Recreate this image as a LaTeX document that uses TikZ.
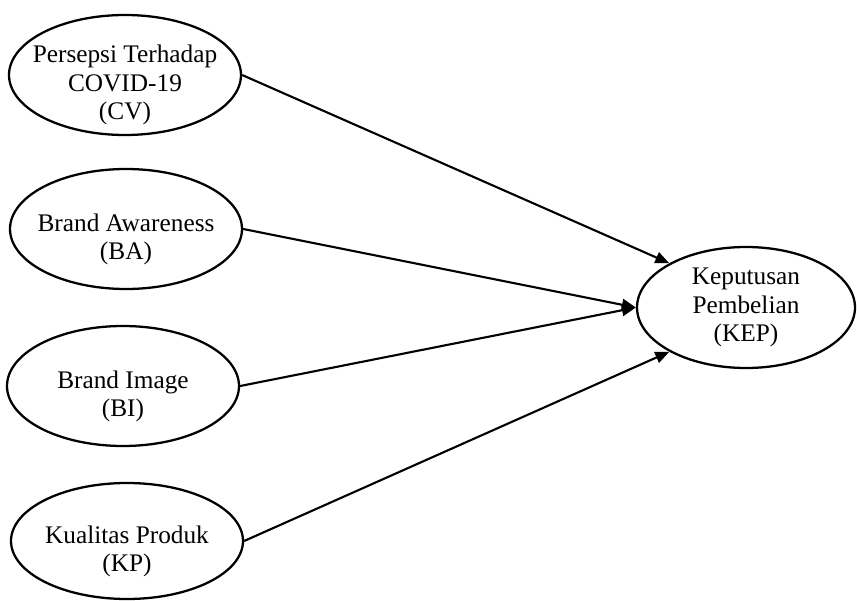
\documentclass[tikz,border=0pt]{standalone}
\usepackage{fontspec}
\setmainfont{Liberation Serif}
\usepackage{tikz}
\usetikzlibrary{arrows.meta,positioning,shapes.geometric}
\tikzset{
  latent/.style={ellipse,draw=black,line width=1.3pt,inner sep=0pt,
    minimum width=4.64cm,minimum height=2.40cm},
  arr/.style={-{Triangle[length=2.8mm,width=2.3mm]},line width=1.2pt,draw=black}
}

\begin{document}
\begin{tikzpicture}[
  lbl/.style={
    font=\fontsize{14.4}{16}\selectfont,
    align=center,
    inner sep=0pt
  },
  lbldown/.style={
    lbl,
    yshift=-0.2cm
  }
]
\useasboundingbox (0,0) rectangle (17.14,12);

% exogenous constructs
\node[latent] (cv) at (2.50,10.50) {};
\node[latent] (ba) at (2.52,7.42) {};
\node[latent] (bi) at (2.46,4.28) {};
\node[latent,minimum height=2.32cm] (kp) at (2.54,1.18) {};

\node[lbldown] (cvtext) at (cv) {Persepsi Terhadap\\COVID-19\\(CV)};
\node[lbldown] (batext) at (ba) {Brand Awareness\\(BA)};
\node[lbldown] (bitext) at (bi) {Brand Image\\(BI)};
\node[lbldown] (kptext) at (kp) {Kualitas Produk\\(KP)};

% endogenous construct
\node[latent,minimum width=4.36cm,minimum height=2.42cm] (kep) at (14.92,5.85) {};
\node[lbl] (keptext) at (kep) {Keputusan\\Pembelian\\(KEP)};

% paths
\draw[arr] (cv.east) -- (kep.150);
\draw[arr] (ba.east) -- (kep.west);
\draw[arr] (bi.east) -- (kep.west);
\draw[arr] (kp.east) -- (kep.210);

\end{tikzpicture}
\end{document}
